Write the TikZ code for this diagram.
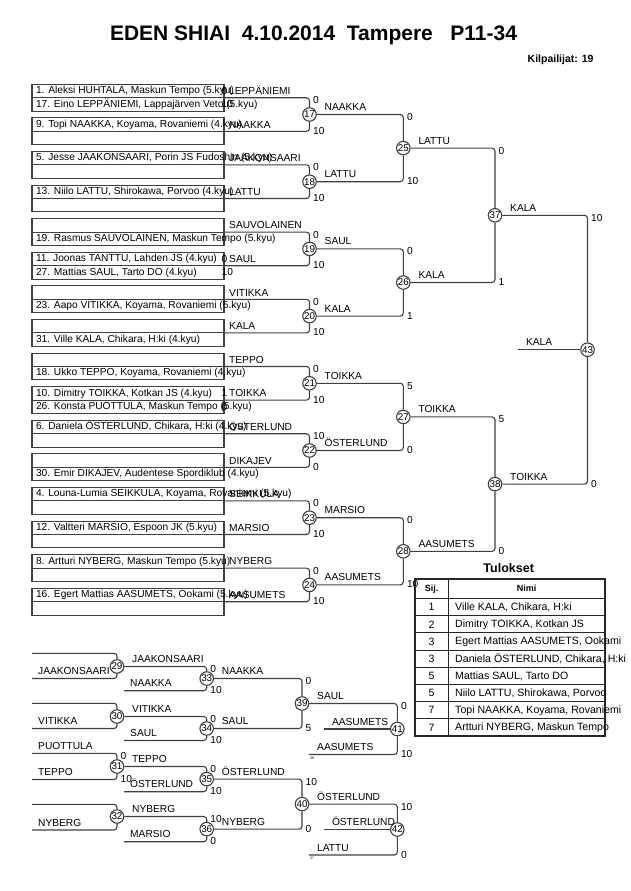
\documentclass[tikz,border=0pt]{standalone}
\usepackage{fontspec}
\setmainfont{Liberation Sans}
\usetikzlibrary{positioning}
\newcommand{\brfont}{\fontsize{10.2}{12}\selectfont}

\begin{document}
\begin{tikzpicture}[x=1pt, y=-1pt, font=\brfont,
  ln/.style={draw=black!75, line width=1.1pt, rounded corners=3pt},
  entry/.style={draw=black!75, line width=1.1pt, anchor=north west, minimum height=13.4pt,
    inner xsep=4pt, inner ysep=0pt, outer sep=0pt, text height=7.3pt, text depth=1.8pt},
  mt/.style={circle, draw=black!75, line width=1.1pt, minimum size=13.5pt, inner sep=0pt,
    font=\fontsize{9.8}{10}\selectfont},
  sc/.style={inner sep=0.5pt, anchor=west},
  lab/.style={inner sep=0pt, anchor=base west},
  srcno/.style={font=\fontsize{3.5}{4}\selectfont, inner sep=0pt, anchor=west},
  tab/.style={draw=black!85, line width=1.6pt}]
\useasboundingbox (0,0) rectangle (630,891);

\node[font=\bfseries\fontsize{21}{24}\selectfont, anchor=base] (title) at (313.5,40.5)
  {EDEN SHIAI\ \ 4.10.2014\ \ Tampere\ \ \ P11-34};
\node[font=\bfseries\fontsize{10.5}{12}\selectfont, anchor=base east] (count) at (597,63) {Kilpailijat: 19};

\foreach \k/\ta/\tb/\sa/\sb/\w in {
  1/{1. Aleksi HUHTALA, Maskun Tempo (5.kyu)}/{17. Eino LEPPÄNIEMI, Lappajärven Veto (5.kyu)}/0/10/LEPPÄNIEMI,
  2/{9. Topi NAAKKA, Koyama, Rovaniemi (4.kyu)}/{}/{}/{}/NAAKKA,
  3/{5. Jesse JAAKONSAARI, Porin JS Fudoshin (5.kyu)}/{}/{}/{}/JAAKONSAARI,
  4/{13. Niilo LATTU, Shirokawa, Porvoo (4.kyu)}/{}/{}/{}/LATTU,
  5/{}/{19. Rasmus SAUVOLAINEN, Maskun Tempo (5.kyu)}/{}/{}/SAUVOLAINEN,
  6/{11. Joonas TANTTU, Lahden JS (4.kyu)}/{27. Mattias SAUL, Tarto DO (4.kyu)}/0/10/SAUL,
  7/{}/{23. Aapo VITIKKA, Koyama, Rovaniemi (5.kyu)}/{}/{}/VITIKKA,
  8/{}/{31. Ville KALA, Chikara, H:ki (4.kyu)}/{}/{}/KALA,
  9/{}/{18. Ukko TEPPO, Koyama, Rovaniemi (4.kyu)}/{}/{}/TEPPO,
  10/{10. Dimitry TOIKKA, Kotkan JS (4.kyu)}/{26. Konsta PUOTTULA, Maskun Tempo (5.kyu)}/1/0/TOIKKA,
  11/{6. Daniela ÖSTERLUND, Chikara, H:ki (4.kyu)}/{}/{}/{}/ÖSTERLUND,
  12/{}/{30. Emir DIKAJEV, Audentese Spordiklub (4.kyu)}/{}/{}/DIKAJEV,
  13/{4. Louna-Lumia SEIKKULA, Koyama, Rovaniemi (5.kyu)}/{}/{}/{}/SEIKKULA,
  14/{12. Valtteri MARSIO, Espoon JK (5.kyu)}/{}/{}/{}/MARSIO,
  15/{8. Artturi NYBERG, Maskun Tempo (5.kyu)}/{}/{}/{}/NYBERG,
  16/{16. Egert Mattias AASUMETS, Ookami (5.kyu)}/{}/{}/{}/AASUMETS}{
  \node[entry] (ea\k) at (32,{84.3+33.6*(\k-1)}) {\makebox[184pt][l]{\ta}};
  \node[entry, below=0pt of ea\k] (eb\k) {\makebox[184pt][l]{\tb}};
  \node[sc] (sa\k) at ([xshift=-3pt]ea\k.east) {\sa};
  \node[sc] (sb\k) at ([xshift=-3pt]eb\k.east) {\sb};
  \node[lab] (w\k) at ([xshift=5pt,yshift=-3.5pt]ea\k.east) {\w};
}

\coordinate (r29a) at (32,653.3); \coordinate (r29b) at (32,678.5);
\coordinate (r30a) at (32,703.3); \coordinate (r30b) at (32,728.5);
\coordinate (r31a) at (32,753.3); \coordinate (r31b) at (32,779.5);
\coordinate (r32a) at (32,804.3); \coordinate (r32b) at (32,830);
\coordinate (r33b) at (124,690.7); \coordinate (r34b) at (124,740.5);
\coordinate (r35b) at (124,791.7); \coordinate (r36b) at (124,841.7);
\coordinate (r41b) at (309,754.5); \coordinate (r42b) at (309,855);
\coordinate (w41) at (324.3,729); \coordinate (w42) at (324.3,829.5);
\coordinate (w43) at (518.3,349.7);

\foreach \n/\cx/\cy/\a/\b/\sa/\sb/\w in {
  17/309.5/114.5/ea1.south east/ea2.south east/0/10/NAAKKA,
  18/309.5/181.7/ea3.south east/ea4.south east/0/10/LATTU,
  19/309.5/248.9/ea5.south east/ea6.south east/0/10/SAUL,
  20/309.5/316.1/ea7.south east/ea8.south east/0/10/KALA,
  21/309.5/383.3/ea9.south east/ea10.south east/0/10/TOIKKA,
  22/309.5/450.5/ea11.south east/ea12.south east/10/0/ÖSTERLUND,
  23/309.5/517.7/ea13.south east/ea14.south east/0/10/MARSIO,
  24/309.5/584.9/ea15.south east/ea16.south east/0/10/AASUMETS,
  25/403.3/148.1/m17/m18/0/10/LATTU,
  26/403.3/282.5/m19/m20/0/1/KALA,
  27/403.3/416.9/m21/m22/5/0/TOIKKA,
  28/403.3/551.3/m23/m24/0/10/AASUMETS,
  37/495/215.3/m25/m26/0/1/KALA,
  38/495/484.1/m27/m28/5/0/TOIKKA,
  43/587.5/349.7/m37/m38/10/0/{},
  29/117/666.5/r29a/r29b/{}/{}/JAAKONSAARI,
  30/117/716.5/r30a/r30b/{}/{}/VITIKKA,
  31/117/766.5/r31a/r31b/0/10/TEPPO,
  32/117/816.5/r32a/r32b/{}/{}/NYBERG,
  33/206.7/678.5/m29/r33b/0/10/NAAKKA,
  34/206.7/728.5/m30/r34b/0/10/SAUL,
  35/206.7/779.1/m31/r35b/0/10/ÖSTERLUND,
  36/206.7/829.1/m32/r36b/10/0/NYBERG,
  39/302/703.5/m33/m34/0/5/SAUL,
  40/302/804.1/m35/m36/10/0/ÖSTERLUND,
  41/397.3/729/m39/r41b/0/10/{},
  42/397.3/829.5/m40/r42b/10/0/{}}{
  \node[mt] (m\n) at (\cx,\cy) {\n};
  \draw[ln] (\a) -| (m\n);
  \draw[ln] (\b) -| (m\n);
  \path (m\n |- \a) ++(3pt,-2.5pt) node[sc] (ta\n) {\sa};
  \path (m\n |- \b) ++(3pt,0.5pt) node[sc] (tb\n) {\sb};
  \path (m\n) ++(15pt,4pt) node[lab] (o\n) {\w};
}

\draw[ln] (w41) -- (m41);
\draw[ln] (w42) -- (m42);
\draw[ln] (w43) -- (m43);
\node[lab] (lw41) at ([xshift=7.5pt,yshift=4pt]w41) {AASUMETS};
\node[lab] (lw42) at ([xshift=7.5pt,yshift=4pt]w42) {ÖSTERLUND};
\node[lab] (lw43) at ([xshift=7.5pt,yshift=4pt]w43) {KALA};

\foreach \c/\t/\dx in {r29b/JAAKONSAARI/6, r30b/VITIKKA/6, r31a/PUOTTULA/6, r31b/TEPPO/6,
  r32b/NYBERG/6, r33b/NAAKKA/6, r34b/SAUL/6, r35b/ÖSTERLUND/6, r36b/MARSIO/6,
  r41b/AASUMETS/8, r42b/LATTU/8}
  \node[lab] (l\c) at ([xshift=\dx pt,yshift=4pt]\c) {\t};
\node[srcno] (n38) at ([xshift=1pt,yshift=-3.5pt]r41b) {38};
\node[srcno] (n37) at ([xshift=1pt,yshift=-3.5pt]r42b) {37};

\node[font=\bfseries\fontsize{12.5}{15}\selectfont] (tulokset) at (508.7,568.3) {Tulokset};
\draw[tab] (415,579) rectangle (605,736.1);
\draw[tab] (415,598.5) -- (605,598.5);
\draw[draw=black!85, line width=0.9pt] (448.3,579) -- (448.3,736.1);
\node[font=\bfseries\fontsize{9}{11}\selectfont] (sij) at (431.5,588.7) {Sij.};
\node[font=\bfseries\fontsize{9}{11}\selectfont] (nimi) at (526.5,588.7) {Nimi};
\foreach \r/\s/\t in {1/1/{Ville KALA, Chikara, H:ki}, 2/2/{Dimitry TOIKKA, Kotkan JS},
  3/3/{Egert Mattias AASUMETS, Ookami}, 4/3/{Daniela ÖSTERLUND, Chikara, H:ki},
  5/5/{Mattias SAUL, Tarto DO}, 6/5/{Niilo LATTU, Shirokawa, Porvoo},
  7/7/{Topi NAAKKA, Koyama, Rovaniemi}, 8/7/{Artturi NYBERG, Maskun Tempo}}{
  \node[font=\fontsize{10.6}{12}\selectfont] (sij\r) at (431.5,{598.5+17.2*(\r-0.5)}) {\s};
  \node[anchor=west, inner sep=0pt, font=\fontsize{10.6}{12}\selectfont] (nimi\r)
    at (455,{598.5+17.2*(\r-0.5)}) {\t};
  \draw[draw=black!85, line width=0.9pt] (415,{598.5+17.2*\r}) -- (605,{598.5+17.2*\r});
}
\end{tikzpicture}
\end{document}
